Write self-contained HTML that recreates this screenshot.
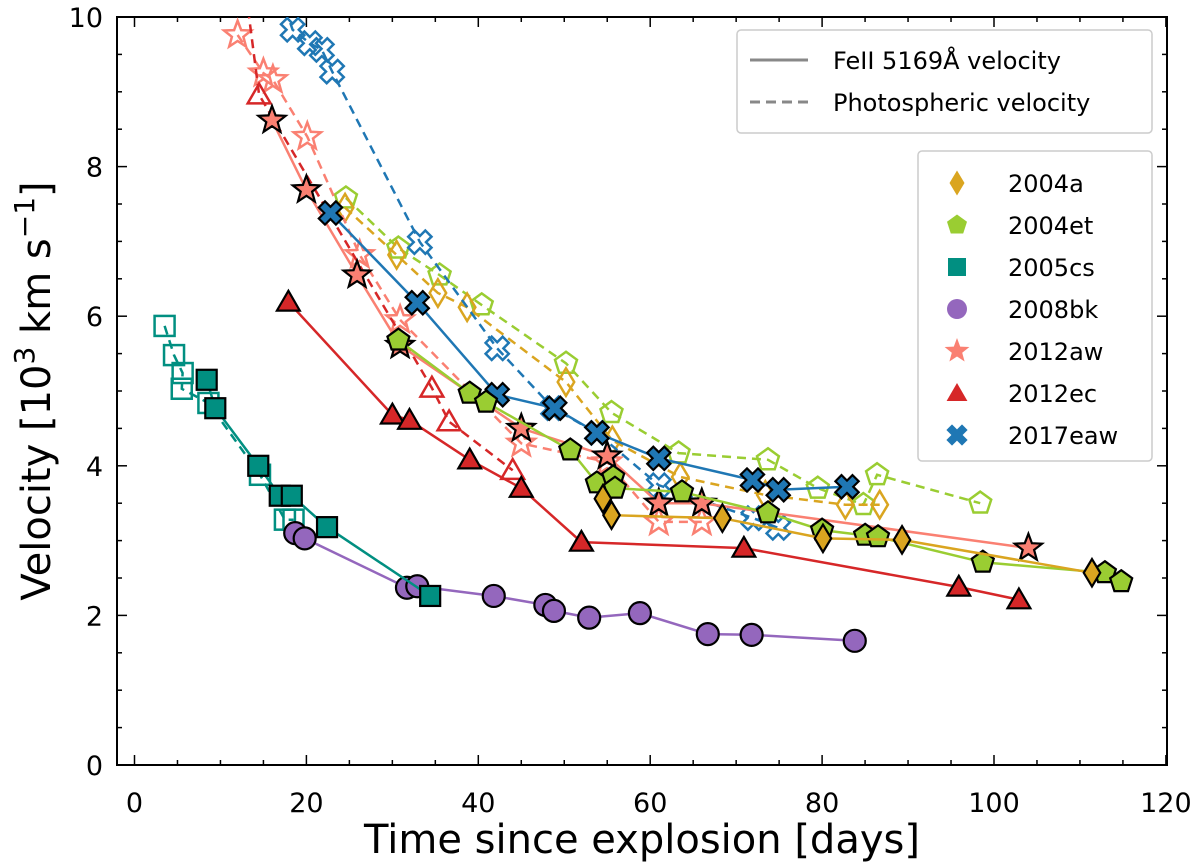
<!DOCTYPE html>
<html><head><meta charset="utf-8"><style>
body{margin:0;background:#fff;font-family:"DejaVu Sans","Liberation Sans",sans-serif;}
svg{display:block}
</style></head><body>
<svg id="chart" width="1200" height="867" xmlns="http://www.w3.org/2000/svg" font-family="DejaVu Sans, Liberation Sans, sans-serif">
<defs><clipPath id="clip"><rect x="117" y="17" width="1050" height="748"/></clipPath></defs>
<g id="axes"></g>
<g id="plot" clip-path="url(#clip)"></g>
<g id="legend"></g>
</svg>
<script>
// ---- data ----
const cs05_fe_t=[8.4,9.4,14.4,16.9,18.3,22.4,34.4];
const cs05_fe_v=[5.15,4.77,4.0,3.6,3.6,3.18,2.26];
const cs05_ph_t=[3.5,4.6,5.6,5.5,8.6,14.6,17.5,18.5];
const cs05_ph_v=[5.87,5.48,5.24,5.03,4.84,3.88,3.28,3.28];
const bk08_t=[18.7,19.8,31.7,32.9,41.8,47.8,48.8,52.9,58.8,66.7,71.8,83.8];
const bk08_v=[3.10,3.03,2.37,2.39,2.26,2.14,2.06,1.97,2.03,1.75,1.74,1.66];
const ec12_fe_t=[17.9,30,32,39,45,52,70.9,95.9,102.9];
const ec12_fe_v=[6.19,4.68,4.61,4.08,3.70,2.98,2.90,2.38,2.21];
const ec12_ph_t=[13.0,14.5,34.6,36.6,44];
const ec12_ph_v=[10.3,8.96,5.04,4.59,3.94];
const aw12_fe_t=[16,20,25.9,30.9,45,55,61,66,104];
const aw12_fe_v=[8.62,7.69,6.55,5.61,4.5,4.13,3.50,3.50,2.90];
const aw12_ph_t=[12,15,16.1,20.1,26.2,30.9,45,55,61,66];
const aw12_ph_v=[9.76,9.25,9.16,8.4,6.82,5.95,4.3,4.05,3.25,3.25];
const eaw17_fe_t=[22.8,32.9,42.2,48.9,53.8,61,71.9,74.9,82.9];
const eaw17_fe_v=[7.38,6.18,4.95,4.77,4.44,4.10,3.81,3.68,3.72];
const eaw17_ph_t=[17.0,18.4,20.4,21.8,23,33.2,42.2,48.7,53.8,61,72,74.9];
const eaw17_ph_v=[10.3,9.83,9.65,9.56,9.27,6.99,5.57,4.77,4.44,3.74,3.30,3.17];
const et04_fe_t=[30.7,39,40.9,50.7,53.8,55.7,55.9,63.7,73.7,80,85,86.5,98.7,112.9,114.8];
const et04_fe_v=[5.68,4.97,4.85,4.21,3.77,3.85,3.70,3.65,3.37,3.14,3.07,3.05,2.71,2.57,2.45];
const et04_ph_t=[24.6,30.7,35.5,40.4,50.2,55.5,63.3,73.7,79.5,84.8,86.4,98.4];
const et04_ph_v=[7.58,6.91,6.55,6.15,5.37,4.71,4.17,4.08,3.70,3.48,3.88,3.50];
const a04_fe_t=[54.5,55.5,68.4,80.1,89.3,111.4];
const a04_fe_v=[3.56,3.34,3.30,3.03,3.01,2.57];
const a04_ph_t=[24.5,30.5,35.3,38.7,50.2,55.6,63.5,73.4,82.7,86.7];
const a04_ph_v=[7.45,6.82,6.31,6.12,5.12,4.34,3.85,3.61,3.48,3.48];
const xTicks=[0,20,40,60,80,100,120];
const yTicks=[0,2,4,6,8,10];
const legendNames=["2004a","2004et","2005cs","2008bk","2012aw","2012ec","2017eaw"];

const NS="http://www.w3.org/2000/svg";
const X=d=>134.5+d*8.595;
const Y=v=>765-v*74.8;
function mk(tag,attrs,parent){const e=document.createElementNS(NS,tag);for(const k in attrs)e.setAttribute(k,attrs[k]);parent.appendChild(e);return e;}
const axes=document.getElementById('axes'),plot=document.getElementById('plot'),leg=document.getElementById('legend');

for(let d=0;d<=120;d+=5){const maj=d%20===0;const L=maj?10:5;
 let t=mk('line',{x1:X(d),x2:X(d),y1:765,y2:765-L,stroke:'#000','stroke-width':1.5},axes);
 
 let t2=mk('line',{x1:X(d),x2:X(d),y1:17,y2:17+L,stroke:'#000','stroke-width':1.5},axes);
 }
for(let v=0;v<=10;v+=0.5){const maj=Math.abs(v%2)<1e-6;const L=maj?10:5;
 let t=mk('line',{x1:117,x2:117+L,y1:Y(v),y2:Y(v),stroke:'#000','stroke-width':1.5},axes);
 
 let t2=mk('line',{x1:1167,x2:1167-L,y1:Y(v),y2:Y(v),stroke:'#000','stroke-width':1.5},axes);
 }
xTicks.forEach(d=>{let t=mk('text',{x:X(d),y:812,'text-anchor':'middle','font-size':27},axes);t.textContent=d;
 });
yTicks.forEach(v=>{let t=mk('text',{x:103,y:Y(v)+10,'text-anchor':'end','font-size':27},axes);t.textContent=v;
 });
let fr=mk('rect',{x:117,y:17,width:1050,height:748,fill:'none',stroke:'#000','stroke-width':2},axes);

let xl=mk('text',{x:642,y:853,'text-anchor':'middle','font-size':40},axes);xl.textContent='Time since explosion [days]';

let yl=mk('text',{x:0,y:0,'text-anchor':'middle','font-size':40,transform:'translate(50,391) rotate(-90)'},axes);
yl.innerHTML='Velocity [10<tspan dy="-16" font-size="28">3</tspan><tspan dy="16"> km s</tspan><tspan dy="-16" font-size="28">−1</tspan><tspan dy="16">]</tspan>';


function star(cx,cy,r){let p=[];for(let i=0;i<10;i++){const rr=i%2?r*0.42:r;const a=-Math.PI/2+i*Math.PI/5;p.push((cx+rr*Math.cos(a)).toFixed(1)+','+(cy+rr*Math.sin(a)).toFixed(1));}return p.join(' ');}
function poly(cx,cy,r,n,rot){let p=[];for(let i=0;i<n;i++){const a=rot+i*2*Math.PI/n;p.push((cx+r*Math.cos(a)).toFixed(1)+','+(cy+r*Math.sin(a)).toFixed(1));}return p.join(' ');}
function crossPts(cx,cy,r){const w=r*0.36;let base=[[-w,-r],[w,-r],[w,-w],[r,-w],[r,w],[w,w],[w,r],[-w,r],[-w,w],[-r,w],[-r,-w],[-w,-w]];
 const c=Math.cos(Math.PI/4),s=Math.sin(Math.PI/4);return base.map(([a,b])=>(cx+a*c-b*s).toFixed(1)+','+(cy+a*s+b*c).toFixed(1)).join(' ');}
function marker(shape,cx,cy,fill,stroke,sw,parent,r){
 r=r||11;let e;
 if(shape==='circle')e=mk('circle',{cx,cy,r:r},parent);
 else if(shape==='square')e=mk('rect',{x:cx-r+1,y:cy-r+1,width:2*r-2,height:2*r-2},parent);
 else if(shape==='diamond')e=mk('polygon',{points:`${cx},${cy-r*1.25} ${cx+r*0.75},${cy} ${cx},${cy+r*1.25} ${cx-r*0.75},${cy}`},parent);
 else if(shape==='tri')e=mk('polygon',{points:poly(cx,cy+2,r*1.2,3,-Math.PI/2)},parent);
 else if(shape==='pent')e=mk('polygon',{points:poly(cx,cy,r*1.05,5,-Math.PI/2)},parent);
 else if(shape==='star')e=mk('polygon',{points:star(cx,cy,r*1.3)},parent);
 else if(shape==='x')e=mk('polygon',{points:crossPts(cx,cy,r*1.1)},parent);
 e.setAttribute('fill',fill);e.setAttribute('stroke',stroke);e.setAttribute('stroke-width',sw);
 return e;}
function series(name,ts,vs,color,shape,dashed){
 const g=mk('g',{},plot);
 
 const pts=ts.map((t,i)=>X(t).toFixed(1)+','+Y(vs[i]).toFixed(1)).join(' ');
 const l=mk('polyline',{points:pts,fill:'none',stroke:color,'stroke-width':2.5},g);
 if(dashed)l.setAttribute('stroke-dasharray','9,6');
 
 ts.forEach((t,i)=>{const m=dashed?marker(shape,X(t),Y(vs[i]),'none',color,2.5,g):marker(shape,X(t),Y(vs[i]),color,'#000',2.2,g);
  });
}
const C={a:'#daa520',et:'#9acd32',cs:'#018f81',bk:'#9467bd',aw:'#fa8072',ec:'#d62728',eaw:'#1f77b4'};
series('2005cs-photospheric',cs05_ph_t,cs05_ph_v,C.cs,'square',true);
series('2004et-photospheric',et04_ph_t,et04_ph_v,C.et,'pent',true);
series('2004a-photospheric',a04_ph_t,a04_ph_v,C.a,'diamond',true);
series('2017eaw-photospheric',eaw17_ph_t,eaw17_ph_v,C.eaw,'x',true);
series('2012aw-photospheric',aw12_ph_t,aw12_ph_v,C.aw,'star',true);
series('2012ec-photospheric',ec12_ph_t,ec12_ph_v,C.ec,'tri',true);
series('2008bk-feii',bk08_t,bk08_v,C.bk,'circle',false);
series('2005cs-feii',cs05_fe_t,cs05_fe_v,C.cs,'square',false);
series('2012ec-feii',ec12_fe_t,ec12_fe_v,C.ec,'tri',false);
series('2012aw-feii',aw12_fe_t,aw12_fe_v,C.aw,'star',false);
series('2017eaw-feii',eaw17_fe_t,eaw17_fe_v,C.eaw,'x',false);
series('2004et-feii',et04_fe_t,et04_fe_v,C.et,'pent',false);
series('2004a-feii',a04_fe_t,a04_fe_v,C.a,'diamond',false);

let b1=mk('rect',{x:737,y:30,width:415,height:103,rx:4,fill:'#fff','fill-opacity':0.85,stroke:'#ccc','stroke-width':1.5},leg);

[['FeII 5169Å velocity',60,false],['Photospheric velocity',102,true]].forEach(([txt,y,d])=>{
 const l=mk('line',{x1:750,x2:808,y1:y,y2:y,stroke:'#888','stroke-width':3},leg);if(d)l.setAttribute('stroke-dasharray','10,6');
 
 const t=mk('text',{x:833,y:y+9,'font-size':24},leg);t.textContent=txt;
 });
let b2=mk('rect',{x:918,y:151,width:234,height:310,rx:4,fill:'#fff','fill-opacity':0.85,stroke:'#ccc','stroke-width':1.5},leg);

const shapes=['diamond','pent','square','circle','star','tri','x'];const cols=[C.a,C.et,C.cs,C.bk,C.aw,C.ec,C.eaw];
legendNames.forEach((n,i)=>{const y=183+i*42;
 const m=marker(shapes[i],957,y,cols[i],'none',0,leg,10);
 const t=mk('text',{x:1008,y:y+9,'font-size':24},leg);t.textContent=n;
 });
</script>
</body></html>
